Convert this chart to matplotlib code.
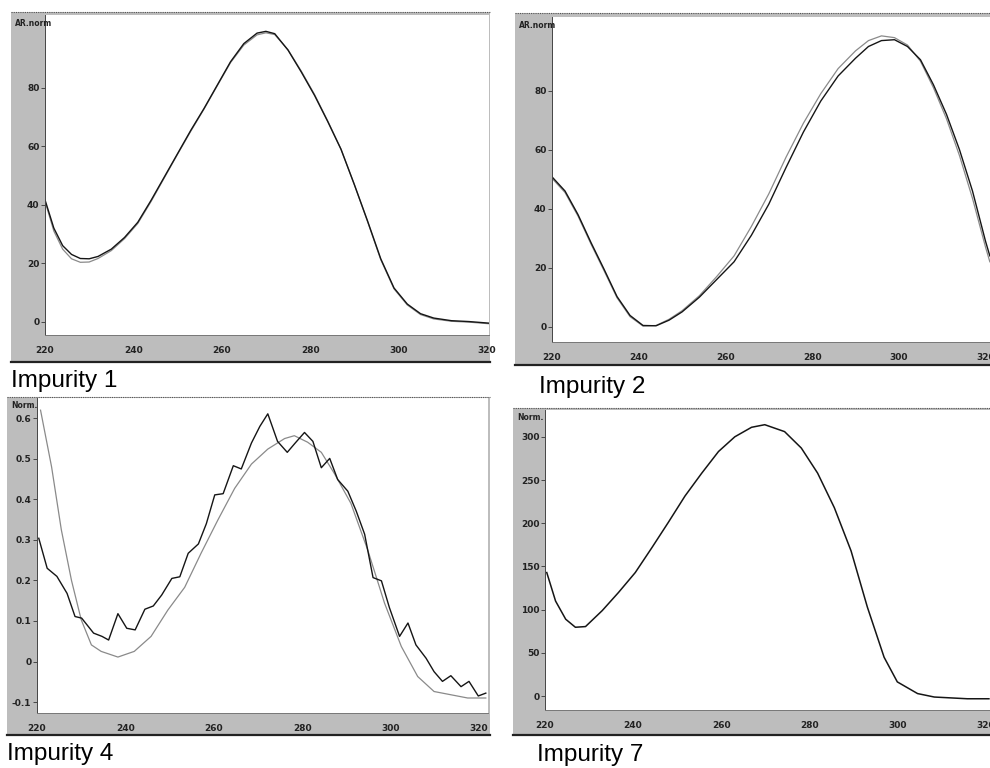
import numpy as np
import matplotlib
matplotlib.use("Agg")
import matplotlib.pyplot as plt
from matplotlib.patches import Rectangle
from matplotlib.lines import Line2D

W, H = 990, 768

# ---- Impurity 1 ----
wl1 = [220, 222, 224, 226, 228, 230, 232, 235, 238, 241, 244, 247, 250, 253, 256,
       259, 262, 265, 268, 270, 272, 275, 278, 281, 284, 287, 290, 293, 296, 299,
       302, 305, 308, 312, 316, 321]
imp1_a = [41.7, 32, 26, 23, 21.6, 21.5, 22.3, 24.8, 28.8, 34, 41.5, 49.5, 57.5, 65.5, 73,
          81, 89, 95.2, 98.8, 99.4, 98.6, 93, 85.5, 77.5, 68.5, 59, 47, 34.5, 21.5,
          11.5, 6, 2.7, 1.2, 0.3, 0, -0.6]
imp1_b = [41.2, 31, 24.8, 21.5, 20.3, 20.4, 21.6, 24.3, 28.4, 33.6, 41.1, 49.2, 57.3, 65.2, 72.8,
          80.8, 88.7, 94.7, 98.2, 98.9, 98.3, 93.1, 85.8, 77.8, 68.7, 59.1, 47, 34.3, 21.2,
          11.2, 5.7, 2.4, 0.9, 0.1, -0.2, -0.8]

# ---- Impurity 2 ----
wl2 = [220, 223, 226, 229, 232, 235, 238, 241, 244, 247, 250, 254, 258, 262, 266,
       270, 274, 278, 282, 286, 290, 293, 296, 299, 302, 305, 308, 311, 314, 317,
       320, 321]
imp2_a = [50.8, 46, 38, 28.5, 19.5, 10.2, 3.8, 0.4, 0.3, 2.2, 5, 10, 16, 22, 31,
          41.5, 54, 66, 76.5, 85, 91, 95, 97, 97.3, 95, 90.5, 82, 72, 60, 46,
          29, 24]
imp2_b = [50.3, 45.5, 37.5, 28, 19, 9.8, 3.4, 0.2, 0.4, 2.5, 5.4, 10.5, 17, 24, 34,
          45, 57.5, 69, 79, 87.5, 93.5, 97, 98.6, 98, 95.5, 90, 81, 70.5, 58, 43.5,
          27, 22]

# ---- Impurity 4 ----
wl4_noisy = [220.4, 222.3, 224.5, 226.8, 228.6, 230.1, 232.8, 234.7, 236.2, 238.3, 240.3,
             242.2, 244.4, 246.3, 248.2, 250.5, 252.3, 254.2, 256.5, 258.3, 260.2, 262.1,
             264.4, 266.2, 268.5, 270.4, 272.2, 274.4, 276.6, 278.4, 280.5, 282.4, 284.3,
             286.2, 288.0, 290.3, 292.2, 294.1, 296.0, 297.9, 299.7, 302.0, 303.9, 305.7,
             308.0, 309.8, 311.7, 313.6, 315.9, 317.7, 319.8, 321.5]
imp4_noisy = [0.304, 0.23, 0.21, 0.168, 0.111, 0.107, 0.070, 0.062, 0.053, 0.118, 0.082,
              0.078, 0.129, 0.137, 0.164, 0.205, 0.209, 0.267, 0.29, 0.34, 0.411, 0.414,
              0.483, 0.475, 0.539, 0.58, 0.611, 0.543, 0.516, 0.539, 0.565, 0.543, 0.478,
              0.501, 0.449, 0.42, 0.371, 0.314, 0.207, 0.199, 0.133, 0.062, 0.095, 0.041,
              0.008, -0.025, -0.049, -0.035, -0.062, -0.049, -0.085, -0.078]
wl4_smooth = [220.8, 223.3, 225.5, 227.8, 230, 232.3, 234.5, 238.3, 242.0, 245.8, 249.6,
              253.4, 257.1, 260.9, 264.7, 268.5, 272.2, 276, 278.2, 281.2, 284.3, 287.3,
              291, 294.8, 298.6, 302.4, 306.1, 309.8, 313.6, 317.4, 321.5]
imp4_smooth = [0.62, 0.48, 0.325, 0.20, 0.103, 0.041, 0.025, 0.011, 0.025, 0.062, 0.127,
               0.183, 0.267, 0.349, 0.427, 0.487, 0.524, 0.55, 0.557, 0.541, 0.516, 0.463,
               0.39, 0.275, 0.144, 0.037, -0.037, -0.074, -0.082, -0.09, -0.09]

# ---- Impurity 7 ----
wl7 = [220.4, 222.4, 224.7, 226.9, 229.2, 233, 236.7, 240.5, 244.3, 248, 251.8, 255.6,
       259.4, 263.1, 266.9, 269.9, 274.4, 278.2, 281.9, 285.7, 289.5, 293.2, 297, 300,
       304.6, 308.4, 315.9, 320.8]
imp7 = [143, 110, 89, 79.7, 80.5, 99, 120, 143, 172, 201, 231.6, 258, 283, 300, 311,
        314, 306, 287, 258, 218, 168, 103, 45, 16.5, 3, -1, -3, -3]

x_ticks = [220, 240, 260, 280, 300, 320]

panels = [
    dict(title="Impurity 1", frame=(11, 12, 490, 362), ax=(45, 15, 489, 335),
         xlim=(220, 320.5), ylim=(-4.6, 105), yticks=[0, 20, 40, 60, 80],
         corner="AR.norm", tpos=(11, 387),
         curves=[(wl1, imp1_b, "#8a8a8a", 0.9), (wl1, imp1_a, "#151515", 1.0)]),
    dict(title="Impurity 2", frame=(515, 13, 992, 365), ax=(552, 17, 992, 342),
         xlim=(220, 321.5), ylim=(-5.2, 105), yticks=[0, 20, 40, 60, 80],
         corner="AR.norm", tpos=(539, 393),
         curves=[(wl2, imp2_b, "#8a8a8a", 0.9), (wl2, imp2_a, "#151515", 1.0)]),
    dict(title="Impurity 4", frame=(7, 397, 490, 735), ax=(37, 398, 488, 713),
         xlim=(220.3, 322), ylim=(-0.127, 0.65), yticks=[-0.1, 0, 0.1, 0.2, 0.3, 0.4, 0.5, 0.6],
         corner="Norm.", tpos=(7, 760),
         curves=[(wl4_smooth, imp4_smooth, "#8a8a8a", 0.9), (wl4_noisy, imp4_noisy, "#151515", 1.0)]),
    dict(title="Impurity 7", frame=(513, 408, 992, 735), ax=(545, 410, 992, 710),
         xlim=(220.5, 321.5), ylim=(-16, 331), yticks=[0, 50, 100, 150, 200, 250, 300],
         corner="Norm.", tpos=(537, 761),
         curves=[(wl7, imp7, "#151515", 1.1)]),
]


def box(x0, y0, x1, y1):
    return [x0 / W, 1 - y1 / H, (x1 - x0) / W, (y1 - y0) / H]


fig = plt.figure(figsize=(W / 100, H / 100), dpi=100)
fig.patch.set_facecolor("white")

for p in panels:
    fx0, fy0, fx1, fy1 = p["frame"]
    l, b, w, h = box(fx0, fy0, fx1, fy1)
    fig.add_artist(Rectangle((l, b), w, h, transform=fig.transFigure,
                             facecolor="#bdbdbd", edgecolor="none", zorder=0))
    # dark lower border of the frame
    fig.add_artist(Line2D([l, l + w], [b, b], transform=fig.transFigure,
                          color="#222222", lw=1.6))
    # dotted upper border
    fig.add_artist(Line2D([l, l + w], [b + h, b + h], transform=fig.transFigure,
                          color="#555555", lw=0.8, ls=(0, (1, 1))))

    ax = fig.add_axes(box(*p["ax"]))
    ax.set_facecolor("white")
    for xs, ys, c, lw in p["curves"]:
        ax.plot(xs, ys, color=c, lw=lw, solid_joinstyle="round")
    ax.set_xlim(*p["xlim"])
    ax.set_ylim(*p["ylim"])
    ax.set_xticks(x_ticks)
    ax.set_yticks(p["yticks"])
    ax.set_yticklabels([f"{v:g}" for v in p["yticks"]])
    for s in ["top", "right"]:
        ax.spines[s].set_visible(False)
    ax.spines["left"].set_color("#444444")
    ax.spines["left"].set_linewidth(0.7)
    ax.spines["bottom"].set_color("#777777")
    ax.spines["bottom"].set_linewidth(0.7)
    ax.tick_params(axis="y", direction="out", length=3, width=0.6, color="#333333",
                   labelsize=6.5, labelcolor="#222222", pad=1)
    ax.tick_params(axis="x", length=0, labelsize=6.5, labelcolor="#222222", pad=8)
    for t in ax.get_xticklabels() + ax.get_yticklabels():
        t.set_fontweight("bold")

    fig.text((fx0 + 4) / W, 1 - (p["ax"][1] + 8) / H, p["corner"], fontsize=5.5,
             fontweight="bold", color="#222222", va="center", ha="left")
    tx, ty = p["tpos"]
    fig.text(tx / W, 1 - ty / H, p["title"], fontsize=17.5, family="Liberation Sans",
             color="black", va="baseline", ha="left")

fig.savefig("out.png", dpi=100)
